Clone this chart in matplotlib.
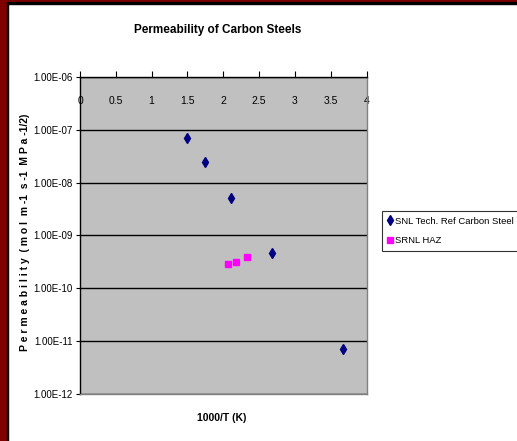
import matplotlib
matplotlib.use('Agg')
import matplotlib.pyplot as plt
from matplotlib.patches import Rectangle
from matplotlib.ticker import FixedLocator, FuncFormatter

# Data
snl_x = [1.50, 1.75, 2.11, 2.68, 3.67]
snl_y = [7.1e-8, 2.5e-8, 5.1e-9, 4.6e-10, 7.0e-12]
srnl_x = [2.06, 2.18, 2.33]
srnl_y = [2.9e-10, 3.2e-10, 4.0e-10]
x_ticks = [0, 0.5, 1, 1.5, 2, 2.5, 3, 3.5, 4]
y_ticks = [1e-12, 1e-11, 1e-10, 1e-9, 1e-8, 1e-7, 1e-6]

plt.rcParams['font.family'] = ['Liberation Sans', 'DejaVu Sans']

fig = plt.figure(figsize=(5.17, 4.41), dpi=100)
fig.patch.set_facecolor('white')

# Slide frame (dark red strip + thin black line)
W, H = 517.0, 441.0
fig.patches.append(Rectangle((0, 0), 6.5 / W, 1, transform=fig.transFigure, color='#800000', zorder=0))
fig.patches.append(Rectangle((0, 1 - 2.5 / H), 1, 2.5 / H, transform=fig.transFigure, color='#800000', zorder=0))
fig.patches.append(Rectangle((6.5 / W, 0), 1 / W, 1 - 2.5 / H, transform=fig.transFigure, color='black', zorder=0))
fig.patches.append(Rectangle((6.5 / W, 1 - 3.5 / H), 1, 1 / H, transform=fig.transFigure, color='black', zorder=0))

ax = fig.add_axes([80 / W, 1 - 394 / H, 286.5 / W, 317 / H])
ax.set_facecolor('#C0C0C0')
ax.set_yscale('log')
ax.set_xlim(0, 4)
ax.set_ylim(1e-12, 1e-6)

ax.yaxis.set_major_locator(FixedLocator(y_ticks))
ax.yaxis.set_minor_locator(FixedLocator([]))
ax.yaxis.set_major_formatter(FuncFormatter(lambda v, p: '%.2E' % v))
ax.xaxis.set_major_locator(FixedLocator(x_ticks))
ax.xaxis.set_major_formatter(FuncFormatter(lambda v, p: '%g' % v))

ax.grid(axis='y', color='black', linewidth=1)
ax.set_axisbelow(True)

ax.tick_params(axis='x', top=True, bottom=False, labeltop=True, labelbottom=False,
               direction='out', length=4, pad=-25, labelsize=7.5)
ax.tick_params(axis='y', direction='out', length=3, labelsize=7, pad=2)

ax.spines['left'].set_color('black')
ax.spines['top'].set_color('black')
ax.spines['right'].set_color('#808080')
ax.spines['bottom'].set_color('#808080')
for s in ax.spines.values():
    s.set_linewidth(1)

ax.plot(snl_x, snl_y, linestyle='none', marker='d', markersize=5, color='#000080',
        label='SNL Tech. Ref Carbon Steel')
ax.plot(srnl_x, srnl_y, linestyle='none', marker='s', markersize=4.5, color='#FF00FF',
        label='SRNL HAZ')

fig.text(218 / W, 1 - 30 / H, 'Permeability of Carbon Steels', ha='center', va='center',
         fontsize=8.5, fontweight='bold')
fig.text(222 / W, 1 - 418 / H, '1000/T (K)', ha='center', va='center',
         fontsize=7.5, fontweight='bold')
fig.text(25 / W, 1 - 232 / H, 'P e r m e a b i l i t y  ( m o l  m -1  s -1  M P a -1/2)',
         ha='center', va='center', rotation=90, fontsize=7.5, fontweight='bold')

leg = fig.legend(loc='upper left', bbox_to_anchor=(382 / W, 1 - 211 / H), fontsize=6.8,
                 frameon=True, fancybox=False, edgecolor='black', handlelength=0.5,
                 handletextpad=0.3, borderpad=0.6, labelspacing=1.1, numpoints=1,
                 borderaxespad=0)
leg.get_frame().set_linewidth(0.8)

fig.savefig('out.png', dpi=100)
